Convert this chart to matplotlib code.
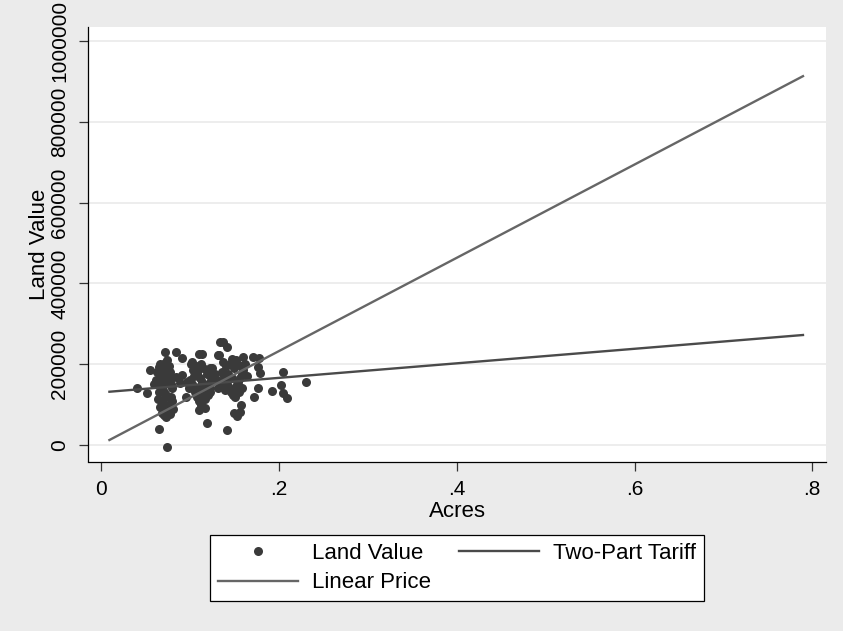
import matplotlib
matplotlib.use('Agg')
import matplotlib.pyplot as plt

plt.rcParams['font.family'] = ['Liberation Sans', 'DejaVu Sans']

# scatter data (acres, land value)
acres = [0.066, 0.068, 0.070, 0.072, 0.074, 0.067, 0.069, 0.071, 0.073, 0.075,
         0.068, 0.070, 0.072, 0.074, 0.076, 0.069, 0.071, 0.073, 0.077, 0.078,
         0.079, 0.080, 0.077, 0.078, 0.076, 0.074, 0.072, 0.066, 0.065, 0.066,
         0.068, 0.070, 0.075, 0.079, 0.080, 0.081, 0.064, 0.063, 0.062, 0.060,
         0.100, 0.102, 0.104, 0.106, 0.108, 0.110, 0.112, 0.105, 0.108, 0.111,
         0.114, 0.116, 0.118, 0.120, 0.122, 0.124, 0.119, 0.115, 0.112, 0.107,
         0.103, 0.101, 0.113, 0.117, 0.121, 0.125, 0.123, 0.109, 0.099, 0.097,
         0.136, 0.138, 0.140, 0.142, 0.144, 0.146, 0.148, 0.150, 0.152, 0.154,
         0.156, 0.158, 0.160, 0.157, 0.153, 0.149, 0.145, 0.141, 0.137, 0.143,
         0.147, 0.151, 0.155, 0.159, 0.139, 0.135, 0.130, 0.128, 0.132, 0.162,
         0.164, 0.152, 0.147,
         0.072, 0.084, 0.091, 0.110, 0.114, 0.102, 0.055, 0.065, 0.072, 0.074,
         0.091, 0.040, 0.052, 0.065, 0.074, 0.108, 0.119, 0.125, 0.114, 0.095,
         0.110, 0.117, 0.119, 0.132, 0.134, 0.137, 0.142, 0.133, 0.160, 0.178,
         0.204, 0.230, 0.177, 0.179, 0.177, 0.192, 0.202, 0.205, 0.209, 0.172,
         0.157, 0.156, 0.149, 0.153, 0.142, 0.123, 0.089, 0.084, 0.171]
land_value = [200000, 185000, 175000, 165000, 155000, 150000, 140000, 132000, 125000, 118000,
              112000, 105000, 98000, 92000, 86000, 80000, 74000, 70000, 78000, 100000,
              120000, 140000, 160000, 180000, 195000, 210000, 190000, 170000, 130000, 95000,
              160000, 145000, 170000, 150000, 110000, 90000, 115000, 180000, 160000, 150000,
              160000, 150000, 140000, 130000, 120000, 110000, 100000, 170000, 175000, 165000,
              155000, 145000, 135000, 125000, 140000, 160000, 175000, 190000, 200000, 195000,
              185000, 200000, 125000, 115000, 150000, 170000, 130000, 140000, 140000, 155000,
              180000, 170000, 160000, 150000, 140000, 130000, 125000, 135000, 145000, 155000,
              165000, 175000, 185000, 195000, 200000, 190000, 200000, 195000, 205000, 175000,
              165000, 120000, 130000, 140000, 135000, 150000, 160000, 175000, 140000, 200000,
              170000, 210000, 212000,
              231000, 231000, 214600, 225000, 225000, 206000, 185600, 193800, 202200, 178000,
              173000, 140300, 129500, 38900, -5700, 181400, 185600, 189800, 152700, 119500,
              86600, 90800, 55000, 222700, 255700, 255700, 243300, 222700, 218500, 214600,
              181400, 156700, 193800, 177500, 140300, 133600, 148500, 128000, 115600, 119500,
              99000, 82400, 78500, 71800, 37000, 190000, 153000, 168000, 218000]

# fitted lines, end points
fit_acres = [0.0093, 0.7895]
tariff_value = [131900, 272300]
linear_value = [12400, 913000]

xticks = [0, 0.2, 0.4, 0.6, 0.8]
xtick_labels = ['0', '.2', '.4', '.6', '.8']
yticks = [0, 200000, 400000, 600000, 800000, 1000000]

bg = '#ebebeb'
fig = plt.figure(figsize=(8.43, 6.31), dpi=100, facecolor=bg)
ax = fig.add_axes([88 / 843, 1 - 461.5 / 631, (826 - 88) / 843, (461.5 - 27) / 631])
ax.set_facecolor('white')

for t in yticks:
    ax.axhline(t, color='#eaeaea', lw=1.2, zorder=0)

pts, = ax.plot(acres, land_value, 'o', color='#3a3a3a', markersize=6.5,
               markeredgewidth=0, label='Land Value', zorder=2)
tariff, = ax.plot(fit_acres, tariff_value, color='#4a4a4a', lw=1.7,
                  label='Two-Part Tariff', zorder=3)
linear, = ax.plot(fit_acres, linear_value, color='#666666', lw=1.7,
                  label='Linear Price', zorder=3)

ax.set_xlim(-0.0148, 0.8154)
ax.set_ylim(-40800, 1034700)
ax.set_xticks(xticks)
ax.set_xticklabels(xtick_labels)
ax.set_yticks(yticks)
ax.set_yticklabels([str(v) for v in yticks], rotation=90, va='center')

ax.spines['top'].set_visible(False)
ax.spines['right'].set_visible(False)
ax.spines['left'].set_linewidth(0.9)
ax.spines['bottom'].set_linewidth(0.9)
ax.tick_params(direction='out', length=6.5, width=0.9, color='#333333',
               labelsize=15, pad=7)

ax.set_xlabel('Acres', fontsize=16, labelpad=1)
ax.set_ylabel('Land Value', fontsize=16, labelpad=0.5)

leg = fig.legend([pts, linear, tariff], ['Land Value', 'Linear Price', 'Two-Part Tariff'],
                 loc='center', bbox_to_anchor=(457 / 843, 1 - 568 / 631), ncol=2,
                 fontsize=16, handlelength=3.6, handletextpad=0.6, columnspacing=1.3,
                 labelspacing=0.4, borderpad=0.35, fancybox=False, framealpha=1,
                 edgecolor='black', facecolor='white', numpoints=1)
leg.get_frame().set_linewidth(0.9)

plt.savefig('out.png', dpi=100, facecolor=bg)
